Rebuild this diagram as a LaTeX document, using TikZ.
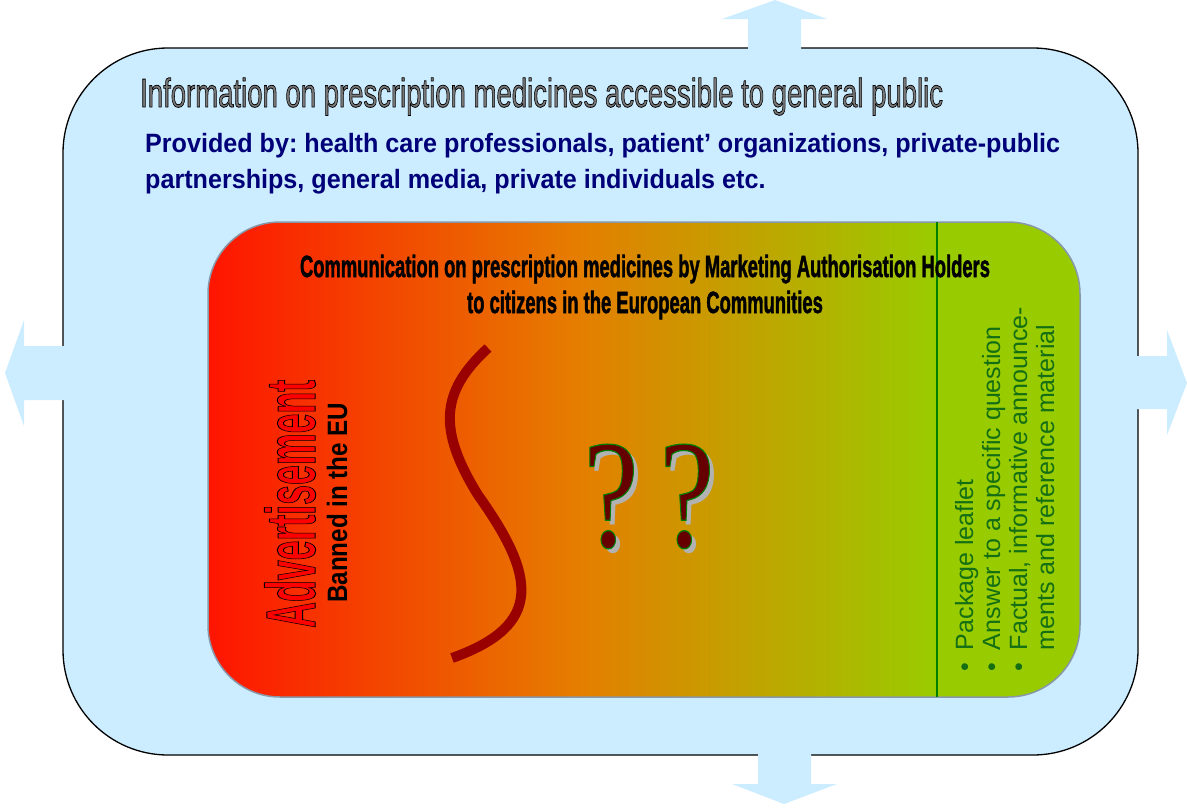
\documentclass[tikz,border=0pt]{standalone}
\usepackage{fontspec}
\setmainfont{Liberation Sans}
\newfontfamily\qfont{Liberation Serif}
\usepackage{graphicx}
\frenchspacing
\definecolor{skyBlue}{RGB}{204,236,255}
\definecolor{frameGray}{RGB}{136,152,168}
\definecolor{headGray}{RGB}{120,120,120}
\definecolor{navyText}{RGB}{0,0,120}
\definecolor{lineGreen}{RGB}{0,128,0}
\definecolor{listGreen}{RGB}{20,110,20}
\definecolor{curveRed}{RGB}{153,0,0}
\definecolor{qRed}{RGB}{102,0,0}
\definecolor{shadowGray}{RGB}{178,178,178}
% the box is mapped onto 25bp--75bp of the shading
\pgfdeclarehorizontalshading{commgrad}{100bp}{rgb(0bp)=(1,0.08,0); rgb(25bp)=(1,0.08,0); rgb(46bp)=(0.9,0.49,0); rgb(66.8bp)=(0.6,0.8,0); rgb(100bp)=(0.6,0.8,0)}

% outlined text: text, stroke width, stroke colour (rgb)
\newcommand{\outlined}[3]{\special{pdf:literal direct #3 RG #2 w 2 Tr}#1\special{pdf:literal direct 0 Tr}}
\newcommand{\fitwidth}[2]{\resizebox{#1}{\height}{#2}}
\newcommand{\qglyph}[2]{\scalebox{0.8}[1]{\fontsize{155}{160}\selectfont\qfont\color{#1}#2}}
% question mark with its shadow
\newcommand{\qmark}{\rlap{\hspace*{5pt}\raisebox{-5pt}{\qglyph{shadowGray}{?}}}\qglyph{qRed}{\outlined{?}{1.2}{0 0.5 0}}}

\begin{document}
\begin{tikzpicture}[x=1pt,y=-1pt,
    arrowfill/.style={fill=skyBlue,draw=none},
    every node/.style={inner sep=0pt}]
  \useasboundingbox (0,0) rectangle (1187,809);
  % outer box
  \draw[fill=skyBlue,line width=1.3pt,rounded corners=105pt] (63,48) rectangle (1138,755);
  % arrows out of the box
  \fill[arrowfill] (748,53) -- (748,19) -- (722,19) -- (775,0) -- (827,19) -- (801,19) -- (801,53) -- cycle;
  \fill[arrowfill] (758,750) -- (758,784) -- (732,784) -- (784,804) -- (837,784) -- (811,784) -- (811,750) -- cycle;
  \fill[arrowfill] (68,346) -- (24,346) -- (24,320) -- (5,373) -- (24,426) -- (24,400) -- (68,400) -- cycle;
  \fill[arrowfill] (1133,356) -- (1167,356) -- (1167,330) -- (1187,383) -- (1167,435) -- (1167,409) -- (1133,409) -- cycle;
  % inner box
  \shadedraw[shading=commgrad,draw=frameGray,line width=1.5pt,rounded corners=72pt] (208,222) rectangle (1080,697);
  \draw[lineGreen,line width=1.5pt] (937,222) -- (937,697);
  % curve
  \draw[curveRed,line width=10pt] (488,348) .. controls (440,392) and (438,430) .. (478,495)
    .. controls (535,575) and (545,625) .. (452,658);
  % texts
  \node[anchor=base west] (headline) at (140,107)
    {\fitwidth{803pt}{\fontsize{40.5}{48}\selectfont\color{headGray}\outlined{Information on prescription medicines accessible to general public}{0.8}{0 0 0}}};
  \node[anchor=base west] (provided) at (145,152)
    {\fitwidth{915pt}{\fontsize{26.5}{36}\selectfont\bfseries\color{navyText}\begin{tabular}[t]{@{}l@{}}Provided by: health care professionals, patient’ organizations, private-public\\partnerships, general media, private individuals etc.\end{tabular}}};
  \node[anchor=base] (commtitle) at (645,277)
    {\fitwidth{690pt}{\fontsize{30.7}{36}\selectfont\bfseries\outlined{\begin{tabular}[t]{@{}c@{}}Communication on prescription medicines by Marketing Authorisation Holders\\to citizens in the European Communities\end{tabular}}{0.6}{0 0 0}}};
  \node[anchor=base west,rotate=90] (advert) at (315,628)
    {\fitwidth{248pt}{\fontsize{70}{80}\selectfont\bfseries\color{red}\outlined{Advertisement}{1}{0 0 0}}};
  \node[anchor=base west,rotate=90] (banned) at (347,603)
    {\fitwidth{200pt}{\fontsize{28}{32}\selectfont\bfseries Banned in the EU}};
  \node[anchor=base west,rotate=90] (leaflet) at (973,672)
    {\fontsize{25}{27}\selectfont\color{listGreen}\begin{tabular}[t]{@{}l@{\hspace{13pt}}l@{}}•&Package leaflet\\•&Answer to a specific question\\•&Factual, informative announce-\\&ments and reference material\end{tabular}};
  % question marks
  \node (qmarkA) at (611,499) {\qmark};
  \node (qmarkB) at (687,499) {\qmark};
\end{tikzpicture}
\end{document}
